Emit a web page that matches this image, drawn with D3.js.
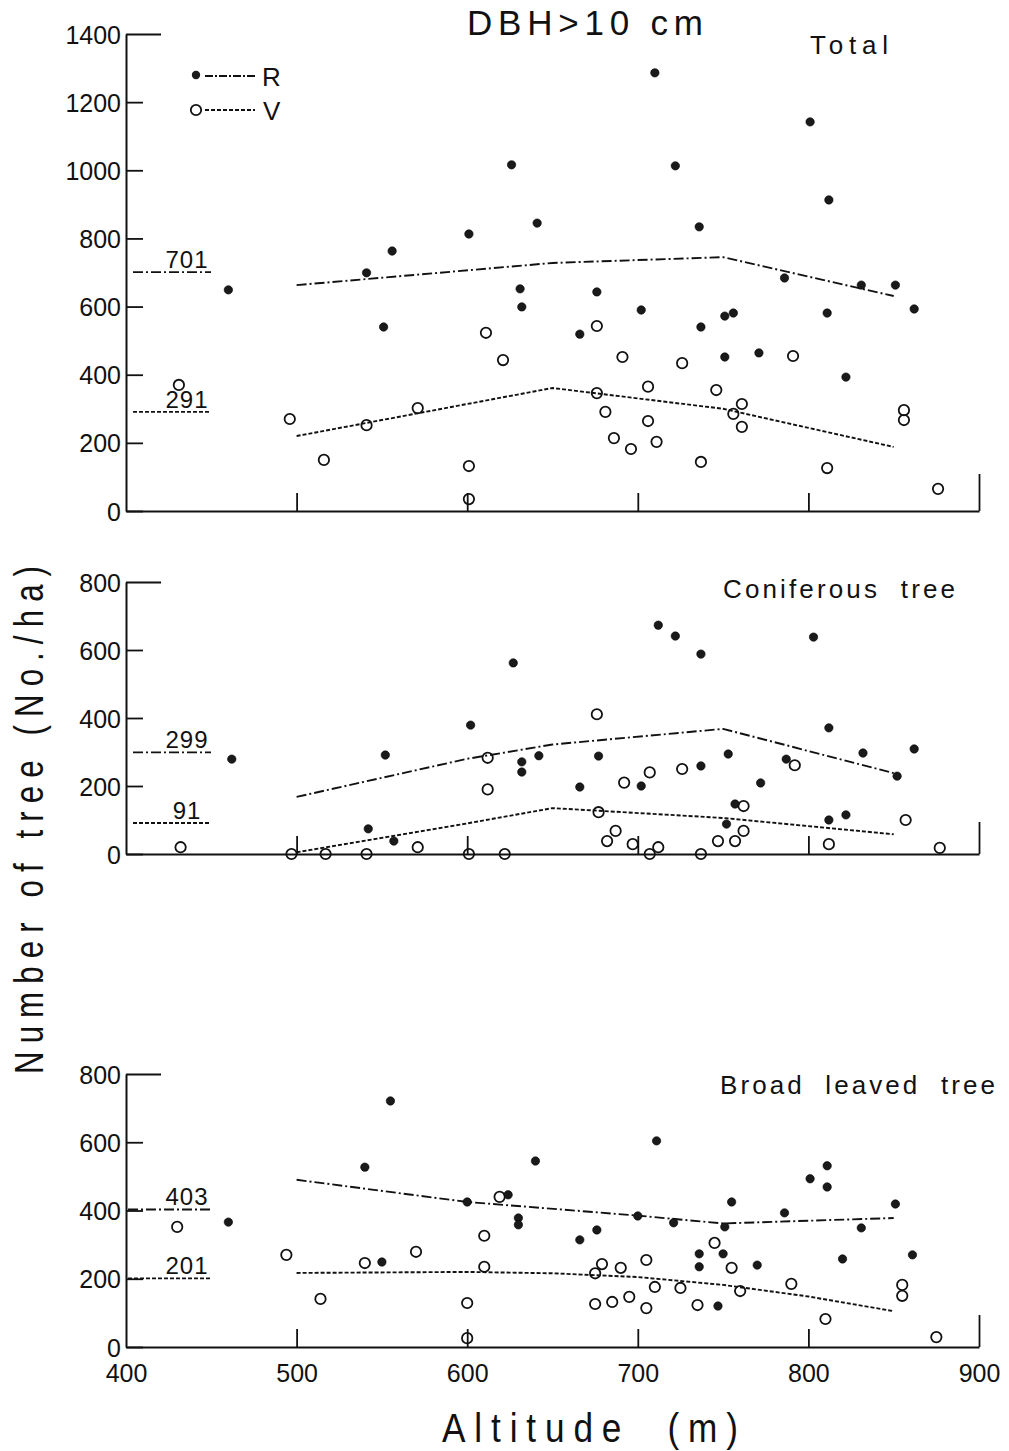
<!DOCTYPE html>
<html><head><meta charset="utf-8">
<script src="https://cdn.jsdelivr.net/npm/d3@7"></script>
<style>
html,body{margin:0;padding:0;background:#fff;}
svg{display:block;font-family:"Liberation Sans",Arial,sans-serif;}
</style></head>
<body>
<script>
// ---- data ----
const altTicks = [400, 500, 600, 700, 800, 900];
const totalTicks = [0, 200, 400, 600, 800, 1000, 1200, 1400];
const subTicks = [0, 200, 400, 600, 800];

// Total
const totalR = [[460,649],[541,699],[551,540],[556,763],[601,813],[626,1016],[631,652],[632,599],[641,845],[666,519],[676,643],[702,590],[710,1286],[722,1013],[736,834],[737,540],[751,572],[756,581],[751,452],[771,464],[786,684],[801,1142],[811,581],[812,913],[822,393],[831,663],[851,663],[862,593]];
const totalV = [[431,370],[496,270],[516,150],[541,252],[571,302],[601,132],[601,35],[611,523],[621,443],[676,543],[676,346],[681,291],[686,214],[691,452],[696,182],[706,365],[706,264],[711,203],[726,434],[737,144],[746,355],[756,285],[761,314],[761,247],[791,455],[811,126],[856,296],[856,267],[876,65]];
const totalRLine = [[500,663],[650,728],[750,745],[850,631]];
const totalVLine = [[500,220],[650,361],[750,300],[850,188]];
const totalMean = {R:701, V:291};

// Coniferous
const conR = [[462,279],[542,74],[552,291],[557,38],[602,379],[627,562],[632,271],[632,241],[642,289],[666,197],[677,288],[702,200],[712,673],[722,641],[737,588],[737,259],[752,88],[753,294],[757,147],[772,209],[787,279],[803,638],[812,371],[812,100],[822,115],[832,297],[852,229],[862,309]];
const conV = [[432,20],[497,0],[517,0],[541,0],[571,20],[601,0],[612,283],[612,190],[622,0],[676,411],[677,123],[682,38],[687,68],[692,210],[697,29],[707,240],[707,0],[712,20],[726,250],[737,0],[747,38],[757,38],[762,141],[762,68],[792,261],[812,29],[857,100],[877,18]];
const conRLine = [[500,168],[600,280],[650,322],[750,368],[850,238]];
const conVLine = [[500,5],[600,90],[650,135],[750,106],[850,58]];
const conMean = {R:299, V:91};

// Broad leaved
const brR = [[460,366],[540,527],[550,249],[555,721],[600,425],[624,446],[630,378],[630,358],[640,545],[666,314],[676,343],[700,384],[711,604],[721,364],[736,273],[736,235],[747,120],[750,273],[751,352],[755,425],[770,240],[786,393],[801,493],[811,531],[811,469],[820,258],[831,349],[851,419],[861,270]];
const brV = [[430,352],[494,270],[514,141],[540,246],[570,279],[600,129],[600,26],[610,326],[610,235],[619,440],[675,216],[675,126],[679,243],[685,132],[690,232],[695,147],[705,255],[705,114],[710,176],[725,173],[735,123],[745,305],[755,232],[760,164],[790,185],[810,82],[855,182],[855,150],[875,29]];
const brRLine = [[500,490],[600,425],[700,385],[750,362],[850,378]];
const brVLine = [[500,217],[600,220],[650,216],[700,205],[750,182],[800,148],[850,105]];
const brMean = {R:403, V:201};

const panelTitles = ["Total", "Coniferous  tree", "Broad  leaved  tree"];

// ---- drawing ----
const W = 1009, H = 1451;
const ink = "#111";
const svg = d3.select("body").append("svg").attr("width", W).attr("height", H);

const x = d3.scaleLinear().domain([400, 900]).range([126, 979]);

const panels = [
  {max:1400, ticks: totalTicks, range:[511, 34], R: totalR, V: totalV, RL: totalRLine, VL: totalVLine, mean: totalMean, title: panelTitles[0], tx: 810, ty: 54, tlen: 78},
  {max:800, ticks: subTicks, range:[854, 582], R: conR, V: conV, RL: conRLine, VL: conVLine, mean: conMean, title: panelTitles[1], tx: 723, ty: 598, tlen: 232},
  {max:800, ticks: subTicks, range:[1347, 1074], R: brR, V: brV, RL: brRLine, VL: brVLine, mean: brMean, title: panelTitles[2], tx: 720, ty: 1094, tlen: 275}
];

const dashR = "10,3,2,3";
const dashV = "4,2";
const lw = 1.9;

panels.forEach((p, i) => {
  const y = d3.scaleLinear().domain([0, p.max]).range(p.range);
  const g = svg.append("g");

  // y axis
  const ya = g.append("g").attr("transform", `translate(${x(400)},0)`)
    .call(d3.axisLeft(y).tickValues(p.ticks).tickSizeInner(-17).tickSizeOuter(0).tickPadding(5).tickFormat(d3.format("d")));
  ya.select(".domain").attr("stroke", ink).attr("stroke-width", 2);
  ya.selectAll(".tick line").attr("stroke", ink).attr("stroke-width", 1.8);
  ya.selectAll(".tick").filter(d => d === p.max).select("line").attr("x2", 35);
  ya.selectAll(".tick text").attr("font-size", 25).attr("fill", ink)
    .attr("font-family", "'Liberation Sans',Arial,sans-serif").attr("dy", "0.36em");

  // x axis (ticks pointing up)
  const xa = g.append("g").attr("transform", `translate(0,${y(0)})`)
    .call(d3.axisTop(x).tickValues([500, 600, 700, 800, 900]).tickSizeInner(18).tickSizeOuter(0).tickFormat(""));
  xa.select(".domain").attr("stroke", ink).attr("stroke-width", 2);
  xa.selectAll(".tick line").attr("stroke", ink).attr("stroke-width", 1.8);
  xa.selectAll(".tick").filter(d => d === 900).select("line").attr("y2", i === 0 ? -37 : -32);

  if (i === 2) {
    const xb = g.append("g").attr("transform", `translate(0,${y(0)})`)
      .call(d3.axisBottom(x).tickValues(altTicks).tickSize(0).tickPadding(17).tickFormat(d3.format("d")));
    xb.select(".domain").remove();
    xb.selectAll(".tick text").attr("font-size", 25).attr("fill", ink)
      .attr("font-family", "'Liberation Sans',Arial,sans-serif");
  }

  // mean reference lines at left
  const refX0 = i === 2 ? x(400) + 2 : x(400) + 7, refX1 = x(400) + 85;
  g.append("line").attr("x1", refX0).attr("x2", refX1).attr("y1", y(p.mean.R)).attr("y2", y(p.mean.R))
    .attr("stroke", ink).attr("stroke-width", lw).attr("stroke-dasharray", dashR);
  g.append("line").attr("x1", refX0).attr("x2", refX1).attr("y1", y(p.mean.V)).attr("y2", y(p.mean.V))
    .attr("stroke", ink).attr("stroke-width", lw).attr("stroke-dasharray", dashV);
  g.append("text").attr("x", x(400) + 61).attr("y", y(p.mean.R) - 4).attr("text-anchor", "middle")
    .attr("font-size", 24).attr("fill", ink).attr("letter-spacing", 1).text(p.mean.R);
  g.append("text").attr("x", x(400) + 61).attr("y", y(p.mean.V) - 4).attr("text-anchor", "middle")
    .attr("font-size", 24).attr("fill", ink).attr("letter-spacing", 1).text(p.mean.V);

  // trend lines
  const line = d3.line().x(d => x(d[0])).y(d => y(d[1]));
  g.append("path").datum(p.RL).attr("d", line).attr("fill", "none").attr("stroke", ink)
    .attr("stroke-width", lw).attr("stroke-dasharray", dashR);
  g.append("path").datum(p.VL).attr("d", line).attr("fill", "none").attr("stroke", ink)
    .attr("stroke-width", lw).attr("stroke-dasharray", dashV);

  // points
  g.selectAll("circle.v").data(p.V).join("circle").attr("class", "v")
    .attr("cx", d => x(d[0])).attr("cy", d => y(d[1])).attr("r", 5.2)
    .attr("fill", "none").attr("stroke", ink).attr("stroke-width", 1.8);
  g.selectAll("circle.r").data(p.R).join("circle").attr("class", "r")
    .attr("cx", d => x(d[0])).attr("cy", d => y(d[1])).attr("r", 4.2)
    .attr("fill", "#1a1a1a").attr("stroke", "#000").attr("stroke-width", 0.6);

  // panel title
  g.append("text").attr("x", p.tx).attr("y", p.ty).attr("font-size", 26).attr("fill", ink)
    .attr("textLength", p.tlen).attr("lengthAdjust", "spacing").style("white-space", "pre").text(p.title);
});

// main title
svg.append("text").attr("x", 467).attr("y", 35).attr("font-size", 35).attr("fill", ink)
  .attr("textLength", 236).attr("lengthAdjust", "spacing").style("white-space", "pre").text("DBH>10 cm");

// legend
svg.append("circle").attr("cx", 196).attr("cy", 75).attr("r", 4.2).attr("fill", "#1a1a1a");
svg.append("line").attr("x1", 205).attr("x2", 255).attr("y1", 76).attr("y2", 76)
  .attr("stroke", ink).attr("stroke-width", lw).attr("stroke-dasharray", "8,2,2,2");
svg.append("text").attr("x", 262).attr("y", 86).attr("font-size", 26).attr("fill", ink).text("R");
svg.append("circle").attr("cx", 196).attr("cy", 110).attr("r", 5.2).attr("fill", "none").attr("stroke", ink).attr("stroke-width", 1.8);
svg.append("line").attr("x1", 205).attr("x2", 255).attr("y1", 110).attr("y2", 110)
  .attr("stroke", ink).attr("stroke-width", lw).attr("stroke-dasharray", dashV);
svg.append("text").attr("x", 263).attr("y", 120).attr("font-size", 26).attr("fill", ink).text("V");

// axis titles
svg.append("text").attr("transform", "translate(43,820) rotate(-90) scale(0.78,1)").attr("text-anchor", "middle")
  .attr("font-size", 40).attr("fill", ink).attr("textLength", 508 / 0.78).attr("lengthAdjust", "spacing")
  .style("white-space", "pre").text("Number of tree (No./ha)");
svg.append("text").attr("transform", "translate(442,1442) scale(0.88,1)").attr("font-size", 40).attr("fill", ink)
  .attr("textLength", 296 / 0.88).attr("lengthAdjust", "spacing").style("white-space", "pre").text("Altitude  (m)");
</script>
</body></html>
